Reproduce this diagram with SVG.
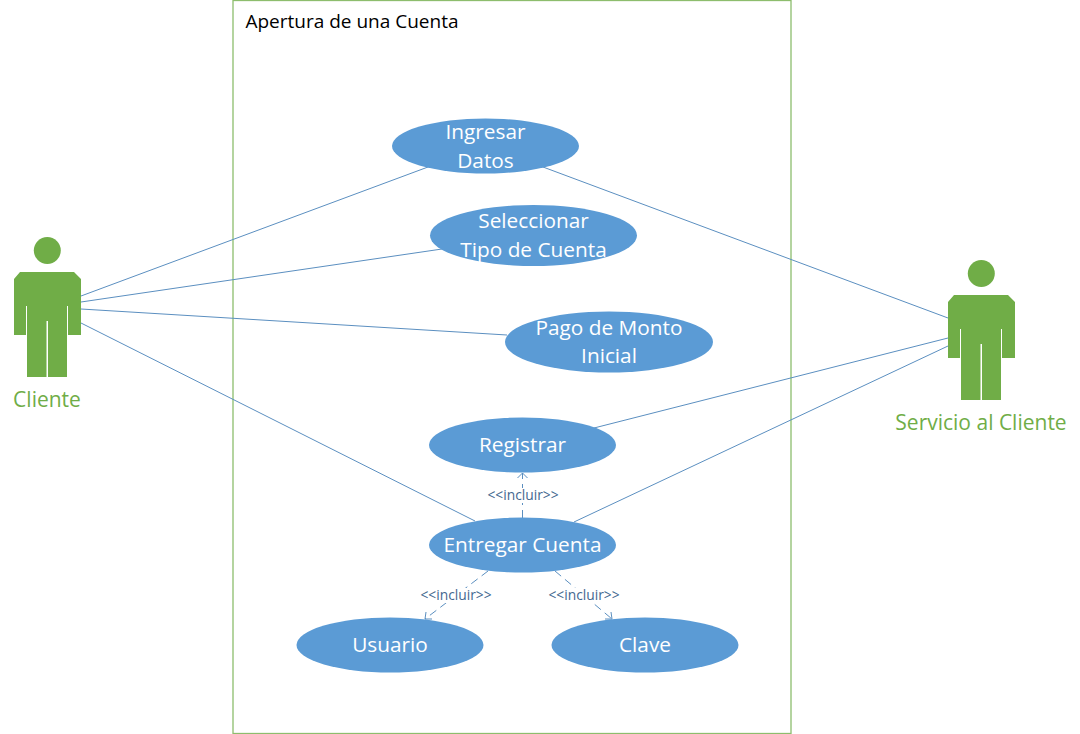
<svg xmlns="http://www.w3.org/2000/svg" width="1080" height="734" viewBox="0 0 1080 734">
<style>
text{font-family:"Open Sans","Noto Sans","Liberation Sans",sans-serif;text-anchor:middle}
.uc ellipse{fill:#5b9bd5}
.uc text{fill:#fff;font-size:20.8px}
.actor path{fill:#70ad47}
.actor circle{fill:#70ad47}
.actor text{fill:#70ad47;font-size:21px}
.l line{stroke:#5b8fc0;stroke-width:1;fill:none}
.d line,.d path{stroke:#5b8fc0;stroke-width:1;fill:none}
.d line{stroke-dasharray:8 5}
.inc{fill:#44688f;font-size:13.8px}
</style>
<rect id="boundary" x="233" y="0.500" width="558" height="733" fill="#fff" stroke="#8dbd6d" stroke-width="1.300"/>
<text x="352" y="28" font-size="19" fill="#000">Apertura de una Cuenta</text>
<g id="connectors">
<g class="l">
<line x1="81" y1="296" x2="428" y2="167"/>
<line x1="81" y1="302" x2="442" y2="249"/>
<line x1="81" y1="309" x2="507" y2="335"/>
<line x1="81" y1="323" x2="475" y2="521"/>
<line x1="948" y1="318" x2="543" y2="167"/>
<line x1="948" y1="338" x2="594" y2="428"/>
<line x1="948" y1="346" x2="574" y2="522"/>
</g>
<g class="d">
<line x1="522.500" y1="518" x2="522.500" y2="473"/>
<path d="M517.500 478L522.500 473L527.500 478"/>
<line x1="488" y1="571" x2="425" y2="619"/>
<path d="M426 612L425 619L432 619"/>
<line x1="555" y1="571" x2="612" y2="619"/>
<path d="M611 612L612 619L605 619"/>
</g>
<rect x="485" y="488" width="76" height="15" fill="#fff"/>
<rect x="419" y="588" width="76" height="15" fill="#fff"/>
<rect x="547" y="588" width="76" height="15" fill="#fff"/>
<text class="inc" x="523" y="500">&lt;&lt;incluir&gt;&gt;</text>
<text class="inc" x="456" y="600">&lt;&lt;incluir&gt;&gt;</text>
<text class="inc" x="584" y="600">&lt;&lt;incluir&gt;&gt;</text>
</g>
<g id="ingresar" class="uc"><ellipse cx="485.500" cy="146" rx="93.500" ry="27.500"/><text x="485.500" y="139">Ingresar</text><text x="485.500" y="168">Datos</text></g>
<g id="seleccionar" class="uc"><ellipse cx="533.500" cy="235.500" rx="103.500" ry="30.500"/><text x="533.500" y="228">Seleccionar</text><text x="533.500" y="257">Tipo de Cuenta</text></g>
<g id="pago" class="uc"><ellipse cx="609" cy="342" rx="104" ry="30.500"/><text x="609" y="335">Pago de Monto</text><text x="609" y="363">Inicial</text></g>
<g id="registrar" class="uc"><ellipse cx="522.500" cy="445" rx="93.500" ry="27.500"/><text x="522.500" y="452">Registrar</text></g>
<g id="entregar" class="uc"><ellipse cx="522.500" cy="545" rx="93.500" ry="27.500"/><text x="522.500" y="552">Entregar Cuenta</text></g>
<g id="usuario" class="uc"><ellipse cx="390" cy="645" rx="93.500" ry="27.500"/><text x="390" y="652">Usuario</text></g>
<g id="clave" class="uc"><ellipse cx="645" cy="645" rx="93.500" ry="27.500"/><text x="645" y="652">Clave</text></g>
<g id="cliente" class="actor">
<circle cx="47.300" cy="250.500" r="13.500"/>
<path d="M20 272H74L81 279V335H68V306H67V377H48V321H46.500V377H27V306H26V335H14V279Z"/>
<text x="47" y="407">Cliente</text>
</g>
<g id="servicio" class="actor">
<circle cx="981.300" cy="273.500" r="13.500"/>
<path d="M954 295H1008L1015 302V358H1002V329H1001V400H982V344H980.500V400H961V329H960V358H948V302Z"/>
<text x="981" y="430">Servicio al Cliente</text>
</g>
</svg>
